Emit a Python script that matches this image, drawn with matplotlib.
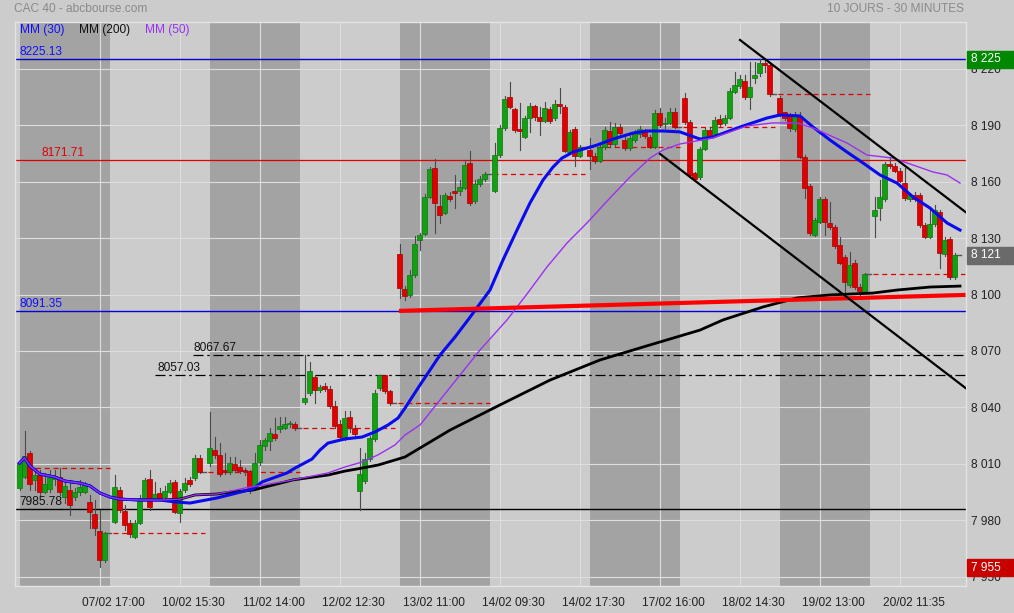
import matplotlib.pyplot as plt
import matplotlib.transforms as mtransforms
from matplotlib.patches import Rectangle

plt.rcParams['font.family'] = ['Liberation Sans', 'DejaVu Sans']

# --- données (bougies 30 min, 18 par séance) ---
jours = ['07/02', '10/02', '11/02', '12/02', '13/02', '14/02', '17/02', '18/02', '19/02', '20/02']

ouv = [
    [7997.3, 8003.1, 8015.9, 8001.4, 8004.0, 7995.1, 7996.4, 8001.9, 8003.1, 7992.3, 7996.0, 7992.2, 7995.1, 7995.1, 7989.8, 7983.1, 7974.2, 7958.8],
    [7979.2, 7996.0, 7984.9, 7978.5, 7971.2, 7978.7, 7991.8, 8001.9, 7991.8, 7994.6, 7992.5, 7995.1, 8000.1, 7984.0, 7996.0, 8001.4, 8002.6, 8012.9],
    [8010.2, 8017.3, 8014.7, 8006.7, 8005.5, 8009.7, 8008.4, 8006.2, 8006.3, 7997.8, 8011.1, 8019.4, 8022.3, 8025.7, 8028.3, 8029.2, 8031.0, 8031.0],
    [8042.7, 8047.5, 8056.3, 8049.2, 8051.3, 8049.8, 8040.9, 8031.1, 8024.1, 8034.7, 8028.9, 7995.7, 8001.0, 8012.5, 8023.0, 8050.1, 8057.2, 8048.7],
    [8121.6, 8102.8, 8099.8, 8110.4, 8129.0, 8132.2, 8152.0, 8167.2, 8147.3, 8143.5, 8152.4, 8155.1, 8155.2, 8156.8, 8169.8, 8149.9, 8158.8, 8161.3],
    [8155.2, 8174.2, 8188.4, 8204.9, 8198.5, 8187.9, 8183.9, 8193.7, 8200.3, 8194.3, 8192.5, 8198.5, 8193.7, 8201.4, 8199.6, 8176.0, 8187.9, 8173.9],
    [8176.9, 8173.9, 8171.2, 8178.3, 8187.0, 8180.1, 8189.3, 8182.2, 8177.8, 8182.2, 8185.2, 8186.6, 8183.6, 8178.6, 8196.7, 8190.7, 8191.4, 8197.3],
    [8204.4, 8191.8, 8164.5, 8162.4, 8177.4, 8187.5, 8185.4, 8193.2, 8191.1, 8194.1, 8207.9, 8210.9, 8213.6, 8204.9, 8215.4, 8217.7, 8223.0, 8222.1],
    [8204.4, 8196.9, 8195.0, 8187.9, 8195.0, 8173.3, 8157.7, 8131.7, 8138.5, 8150.7, 8138.3, 8135.7, 8126.4, 8119.8, 8105.1, 8116.9, 8104.2, 8102.0],
    [8141.9, 8146.2, 8150.7, 8169.4, 8168.4, 8165.9, 8159.2, 8150.7, 8152.9, 8152.9, 8136.9, 8130.8, 8137.4, 8143.7, 8121.6, 8129.4, 8109.2],
]
haut = [
    [8012.0, 8027.4, 8016.8, 8007.7, 8006.7, 8005.1, 8006.7, 8006.7, 8007.7, 8000.3, 8001.3, 7997.1, 8001.3, 8000.3, 7993.4, 7990.7, 7985.4, 7973.7],
    [8004.0, 7997.6, 7988.1, 7980.1, 7980.1, 7993.4, 8002.4, 8006.7, 8000.3, 7997.1, 7998.2, 8001.3, 8001.3, 7996.6, 8002.4, 8002.9, 8014.7, 8014.7],
    [8037.7, 8024.2, 8021.0, 8015.7, 8013.6, 8013.6, 8012.0, 8007.7, 8006.7, 8015.7, 8022.6, 8023.7, 8029.0, 8034.3, 8034.9, 8034.9, 8032.7, 8032.2],
    [8067.67, 8064.1, 8057.2, 8051.9, 8052.9, 8051.4, 8043.4, 8033.3, 8038.2, 8038.2, 8030.6, 8018.4, 8015.7, 8024.8, 8049.2, 8057.03, 8057.0, 8049.2],
    [8126.9, 8104.5, 8113.0, 8131.1, 8132.7, 8153.5, 8168.0, 8172.1, 8152.9, 8154.0, 8154.5, 8163.6, 8160.9, 8171.6, 8176.5, 8160.9, 8163.0, 8165.2],
    [8180.6, 8190.2, 8205.6, 8213.2, 8199.2, 8201.9, 8195.0, 8201.9, 8200.8, 8199.9, 8202.6, 8199.7, 8203.5, 8209.7, 8200.8, 8187.5, 8189.1, 8179.5],
    [8183.3, 8175.3, 8179.5, 8189.3, 8191.9, 8191.1, 8190.7, 8183.8, 8184.9, 8187.5, 8189.6, 8188.1, 8184.9, 8198.2, 8199.2, 8193.9, 8199.1, 8199.2],
    [8207.0, 8192.8, 8165.2, 8178.5, 8188.6, 8189.1, 8194.4, 8195.5, 8195.5, 8209.9, 8218.5, 8216.8, 8216.8, 8223.8, 8223.8, 8225.13, 8225.1, 8223.2],
    [8205.6, 8197.3, 8196.6, 8197.3, 8197.1, 8174.2, 8158.8, 8140.7, 8152.1, 8152.1, 8149.4, 8136.9, 8130.8, 8121.0, 8122.8, 8118.4, 8105.6, 8111.3],
    [8152.0, 8160.9, 8170.5, 8173.3, 8170.0, 8167.3, 8167.1, 8154.0, 8154.5, 8154.0, 8138.0, 8146.7, 8147.6, 8145.0, 8130.6, 8130.6, 8121.9],
]
bas = [
    [7996.0, 8002.4, 7996.0, 7996.0, 7993.4, 7994.5, 7995.0, 7998.7, 7993.4, 7989.1, 7982.7, 7990.7, 7993.4, 7994.5, 7975.8, 7972.1, 7955.2, 7957.7],
    [7978.5, 7984.3, 7974.8, 7971.0, 7970.5, 7977.9, 7990.7, 7985.4, 7990.7, 7990.7, 7991.8, 7994.5, 7983.8, 7979.2, 7995.0, 7998.2, 8001.4, 8005.1],
    [8008.8, 8013.1, 8003.5, 8004.5, 8004.5, 8005.6, 8005.1, 8004.0, 7994.5, 7997.1, 8009.3, 8017.3, 8017.3, 8022.6, 8026.9, 8028.5, 8029.5, 8027.9],
    [8041.8, 8046.6, 8042.3, 8048.2, 8048.7, 8039.7, 8029.0, 8022.6, 8022.6, 8026.9, 8024.8, 7985.4, 8000.0, 8011.5, 8022.1, 8049.2, 8047.6, 8041.3],
    [8098.2, 8097.1, 8098.7, 8109.3, 8123.7, 8131.7, 8151.3, 8132.7, 8138.2, 8142.8, 8149.7, 8146.0, 8152.9, 8156.1, 8147.6, 8148.7, 8157.7, 8160.4],
    [8154.5, 8173.2, 8187.5, 8199.2, 8186.6, 8176.9, 8183.3, 8186.6, 8192.8, 8184.9, 8191.8, 8191.2, 8192.8, 8196.7, 8175.8, 8175.3, 8168.4, 8173.2],
    [8166.6, 8170.0, 8170.5, 8177.4, 8178.3, 8179.0, 8184.9, 8176.9, 8176.9, 8181.1, 8183.8, 8183.3, 8177.9, 8177.9, 8189.1, 8188.6, 8190.7, 8188.6],
    [8190.7, 8162.5, 8160.4, 8161.4, 8176.9, 8183.3, 8184.3, 8189.6, 8190.2, 8193.4, 8207.2, 8209.9, 8204.0, 8198.5, 8212.7, 8216.2, 8218.5, 8205.6],
    [8194.9, 8192.8, 8187.0, 8187.0, 8172.6, 8151.2, 8131.7, 8131.1, 8138.0, 8131.7, 8134.9, 8124.7, 8116.2, 8099.8, 8104.0, 8102.9, 8098.9, 8101.4],
    [8130.8, 8139.7, 8149.7, 8167.3, 8165.2, 8159.9, 8150.3, 8149.7, 8149.7, 8135.9, 8130.1, 8130.1, 8136.4, 8113.9, 8120.5, 8108.3, 8108.3],
]
clo = [
    [8010.6, 8014.1, 7999.1, 8004.0, 7995.1, 7999.1, 8004.0, 8003.5, 7995.1, 7998.2, 7988.1, 7995.1, 7997.8, 7998.7, 7984.5, 7975.9, 7958.8, 7973.0],
    [7997.8, 7985.4, 7977.4, 7972.6, 7978.5, 7991.8, 8001.4, 7986.8, 7993.9, 7991.8, 7995.5, 8000.0, 7984.5, 7995.5, 8000.0, 7999.2, 8012.9, 8005.8],
    [8018.2, 8014.7, 8004.5, 8005.5, 8010.2, 8006.7, 8006.2, 8006.0, 7996.9, 8010.2, 8020.0, 8022.6, 8026.2, 8023.9, 8030.1, 8031.0, 8031.2, 8028.9],
    [8045.2, 8059.3, 8049.2, 8050.7, 8049.8, 8040.9, 8030.2, 8024.1, 8034.2, 8029.4, 8025.7, 8004.5, 8012.5, 8023.5, 8047.8, 8057.0, 8048.7, 8042.2],
    [8103.6, 8099.2, 8110.4, 8126.9, 8131.7, 8152.0, 8166.8, 8148.5, 8142.3, 8152.9, 8150.6, 8153.9, 8157.4, 8168.9, 8148.5, 8158.8, 8161.3, 8164.1],
    [8174.2, 8188.4, 8203.8, 8199.9, 8187.5, 8187.1, 8193.7, 8200.3, 8194.3, 8192.3, 8199.1, 8192.5, 8201.4, 8200.3, 8176.5, 8186.3, 8173.9, 8178.3],
    [8173.9, 8171.2, 8178.3, 8187.5, 8180.1, 8189.3, 8186.1, 8177.8, 8183.1, 8185.8, 8188.1, 8184.3, 8178.6, 8196.7, 8190.2, 8191.4, 8197.3, 8189.3],
    [8191.8, 8163.6, 8161.3, 8177.4, 8187.5, 8184.3, 8192.8, 8190.7, 8194.1, 8208.3, 8211.5, 8214.5, 8204.9, 8210.2, 8216.8, 8223.0, 8222.1, 8206.7],
    [8196.0, 8193.7, 8188.4, 8195.0, 8173.3, 8156.5, 8132.6, 8139.7, 8150.7, 8138.5, 8135.7, 8125.8, 8116.9, 8106.8, 8115.7, 8104.2, 8102.0, 8110.9],
    [8145.0, 8152.0, 8169.4, 8168.4, 8165.9, 8160.6, 8151.2, 8152.9, 8151.0, 8136.9, 8130.8, 8137.5, 8145.0, 8121.9, 8129.0, 8109.2, 8121.0],
]
cloture_veille = 8007.7

# moyennes mobiles (position en bougies, cours)
mm30_x = [1.0, 2.0, 3.1, 5.1, 8.1, 10.1, 13.1, 15.1, 17.1, 19.1, 21.1, 25.1, 29.1, 32.1, 35.1, 40.5, 47.7, 49.5, 54.5,
          56.1, 59.5, 61.1, 62.7, 66.1, 69.5, 72.1, 74.7, 76.7, 78.1, 81.1, 85.1, 88.1, 90.7, 95.1, 97.7, 100.5, 103.1,
          105.7, 107.7, 109.5, 111.7, 116.5, 119.7, 123.7, 126.5, 129.7, 133.1, 137.1, 139.7, 145.1, 150.5, 153.1, 157.1,
          159.7, 163.1, 166.5, 169.7, 173.1, 176.5, 179.7, 183.1, 186.5, 189.1]
mm30_y = [8010.4, 8013.1, 8008.8, 8004.5, 8002.9, 8000.8, 7999.7, 7998.2, 7994.4, 7992.3, 7991.2, 7990.7, 7990.7, 7989.7,
          7989.1, 7991.8, 7996.6, 8000.3, 8005.1, 8007.7, 8012.5, 8017.3, 8021.0, 8023.2, 8024.2, 8026.9, 8030.6, 8034.3,
          8039.6, 8051.9, 8067.8, 8077.4, 8086.5, 8102.4, 8118.4, 8134.3, 8148.7, 8160.9, 8167.8, 8172.6, 8175.8, 8179.5,
          8182.7, 8185.9, 8187.0, 8187.0, 8186.5, 8182.7, 8183.8, 8189.1, 8193.9, 8195.5, 8195.0, 8189.1, 8182.2, 8175.8,
          8170.0, 8163.6, 8159.3, 8151.9, 8146.0, 8138.1, 8134.3]

mm50_x = [1.0, 2.0, 3.1, 5.1, 8.1, 10.1, 13.1, 15.1, 17.1, 19.1, 21.1, 25.1, 29.1, 33.1, 36.1, 40.5, 46.1, 54.5, 62.7,
          66.1, 69.5, 72.7, 76.1, 78.1, 81.1, 85.1, 89.1, 93.1, 98.5, 102.5, 106.5, 110.5, 114.5, 119.1, 123.1, 127.1,
          129.7, 133.1, 139.7, 146.5, 151.7, 156.5, 159.7, 166.5, 170.5, 175.7, 179.7, 183.7, 186.5, 189.1]
mm50_y = [8010.4, 8013.1, 8008.8, 8004.5, 8002.9, 8000.8, 7999.7, 7998.2, 7994.4, 7992.3, 7991.2, 7990.7, 7990.7, 7991.2,
          7993.4, 7993.9, 7997.1, 8000.8, 8005.1, 8008.3, 8010.9, 8014.7, 8020.0, 8025.3, 8030.6, 8043.9, 8057.2, 8070.5,
          8086.5, 8100.3, 8114.7, 8127.4, 8138.1, 8151.4, 8162.5, 8172.6, 8176.9, 8180.1, 8183.3, 8189.7, 8191.3, 8191.3,
          8188.6, 8180.6, 8174.2, 8172.6, 8168.9, 8165.2, 8163.6, 8159.3]

mm200_x = [1.0, 2.0, 3.1, 5.1, 8.1, 10.1, 13.1, 15.1, 17.1, 19.1, 21.1, 25.1, 29.1, 33.1, 36.1, 40.5, 43.1, 47.7, 55.7,
           62.7, 66.1, 69.5, 72.7, 76.1, 78.1, 87.1, 97.1, 107.1, 117.1, 127.1, 137.1, 141.7, 149.7, 156.5, 163.1, 171.7,
           176.5, 183.1, 189.1]
mm200_y = [8010.4, 8013.1, 8008.8, 8004.5, 8002.9, 8000.8, 7999.7, 7998.2, 7994.4, 7992.3, 7991.2, 7990.7, 7990.7,
           7991.2, 7993.4, 7993.9, 7994.9, 7996.0, 8001.4, 8004.0, 8006.1, 8007.7, 8009.3, 8012.0, 8013.6, 8027.9,
           8041.3, 8054.5, 8065.2, 8073.2, 8081.1, 8086.5, 8093.4, 8098.2, 8099.8, 8100.8, 8102.4, 8104.0, 8104.5]

# niveaux horizontaux et droites tracées
niv_haut, niv_r, niv_bleu, niv_a, niv_b, niv_bas = 8225.13, 8171.71, 8091.35, 8067.67, 8057.03, 7985.78
tend_rouge = ([76.9, 190.2], [8091.3, 8099.8])
canal_haut = ([145.1, 190.2], [8235.4, 8143.9])
canal_bas = ([129.1, 190.2], [8174.8, 8050.3])

etiq_x = ['07/02 17:00', '10/02 15:30', '11/02 14:00', '12/02 12:30', '13/02 11:00', '14/02 09:30',
          '14/02 17:30', '17/02 16:00', '18/02 14:30', '19/02 13:00', '20/02 11:35']

# --- figure ---
W, H = 1014, 613
fond = '#cccccc'
fig = plt.figure(figsize=(W / 100, H / 100), dpi=100, facecolor=fond)
ax = fig.add_axes([14.5 / W, (H - 585.5) / H, 951.2 / W, 563.5 / H])
ax.set_facecolor(fond)
ax.set_xlim(0, 190.24)
ax.set_ylim(7945.24, 8244.97)

for sp in ax.spines.values():
    sp.set_color('#e4e4e4')
    sp.set_linewidth(1)

# séances alternées grisées
for d in range(0, 10, 2):
    s0 = 1 + 19 * d
    ax.axvspan(s0, s0 + 18, color='#a3a3a3', lw=0, zorder=0)

# grille
ax.set_yticks(range(7950, 8221, 30))
ax.set_yticklabels([f'{v // 1000} {v % 1000:03d}' for v in range(7950, 8221, 30)])
ax.yaxis.tick_right()
ax.tick_params(axis='y', length=0, pad=4, labelsize=8.6, labelcolor='#222222')
grille_x = [17 + 16 * i for i in range(11)]
ax.set_xticks(grille_x)
ax.set_xticklabels([])
ax.tick_params(axis='x', length=0)
ax.grid(True, color='#dedede', lw=0.8, zorder=0.5)
ax.set_axisbelow(True)

tx = ax.get_xaxis_transform()
for s, lab in zip(grille_x, etiq_x):
    ax.text(s + 2.8, -0.031, lab, transform=tx, ha='center', va='center', fontsize=8.6, color='#222222')

# lignes horizontales
ax.axhline(niv_haut, color='#0000c8', lw=1, zorder=2)
ax.axhline(niv_r, color='#e00000', lw=0.9, zorder=2)
ax.axhline(niv_bleu, color='#0000e0', lw=1, zorder=2)
ax.axhline(niv_bas, color='#000000', lw=1, zorder=2)
ax.plot([35.7, 190.24], [niv_a, niv_a], color='black', lw=0.9, ls=(0, (8, 3, 2, 3)), zorder=2)
ax.plot([28.1, 190.24], [niv_b, niv_b], color='black', lw=0.9, ls=(0, (8, 3, 2, 3)), zorder=2)

for xs, v, col in [(1.0, niv_haut, '#1010ff'), (5.5, niv_r, '#e00000'), (1.0, niv_bleu, '#1010ff'),
                   (35.9, niv_a, '#111111'), (28.7, niv_b, '#111111'), (1.0, niv_bas, '#111111')]:
    ax.annotate(f'{v:.2f}', (xs, v), xytext=(0, 5), textcoords='offset points',
                ha='left', va='center', fontsize=8.6, color=col, zorder=6)

# clôture de la veille (pointillés rouges) + raccord gris
for d in range(10):
    s0 = 1 + 19 * d
    n = len(clo[d])
    prec = cloture_veille if d == 0 else clo[d - 1][-1]
    ax.plot([s0 - 0.3, s0 + 17 + 1.1], [prec, prec], color='#e00000', lw=0.9, ls=(0, (4, 3)), zorder=2.5)
    ax.plot([s0 + n - 1, s0 + n - 1 + 1.3], [clo[d][-1], clo[d][-1]], color='#555555', lw=1, zorder=3)

# bougies
for d in range(10):
    for k in range(len(ouv[d])):
        s = 1 + 19 * d + k
        o, h, l, c = ouv[d][k], haut[d][k], bas[d][k], clo[d][k]
        ax.plot([s, s], [l, h], color='#4a4a4a', lw=0.8, zorder=3)
        hausse = c >= o
        ax.bar(s, max(abs(c - o), 0.5), bottom=min(o, c), width=0.86,
               color='#12a012' if hausse else '#e00000',
               edgecolor='#0b780b' if hausse else '#a80000', lw=0.5, zorder=4)

# moyennes mobiles
ax.plot(mm200_x, mm200_y, color='#000000', lw=2.0, zorder=5)
ax.plot(mm30_x, mm30_y, color='#0a0aee', lw=2.2, zorder=5.2)
ax.plot(mm50_x, mm50_y, color='#9a30f0', lw=1.0, zorder=5.4)

# droites de tendance
ax.plot(*tend_rouge, color='#ff0000', lw=3.0, solid_capstyle='butt', zorder=5.5)
ax.plot(*canal_haut, color='#000000', lw=1.6, zorder=5.5)
ax.plot(*canal_bas, color='#000000', lw=1.6, zorder=5.5)

# étiquettes à droite
bt = mtransforms.blended_transform_factory(fig.transFigure, ax.transData)
hb = 17 / 1.8801
for v, txt, col in [(8225.13, '8 225', '#008800'), (8121.0, '8 121', '#6a6a6a'), (7954.8, '7 955', '#c80000')]:
    fig.patches.append(Rectangle((967 / W, v - hb / 2), 47 / W, hb, transform=bt, color=col, zorder=10))
    fig.text(971 / W, v, txt, transform=bt, ha='left', va='center', fontsize=8.6, color='white', zorder=11)

# en-têtes et légende
fig.text(14 / W, 1 - 9.5 / H, 'CAC 40 - abcbourse.com', ha='left', va='center', fontsize=8.6, color='#8a8a8a')
fig.text(964 / W, 1 - 9.5 / H, '10 JOURS - 30 MINUTES', ha='right', va='center', fontsize=8.6, color='#8a8a8a')
fig.text(19.5 / W, 1 - 30.5 / H, 'MM (30)', ha='left', va='center', fontsize=8.6, color='#1010ff')
fig.text(79 / W, 1 - 30.5 / H, 'MM (200)', ha='left', va='center', fontsize=8.6, color='#111111')
fig.text(145 / W, 1 - 30.5 / H, 'MM (50)', ha='left', va='center', fontsize=8.6, color='#9a30f0')

fig.savefig('out.png', dpi=100, facecolor=fond)
